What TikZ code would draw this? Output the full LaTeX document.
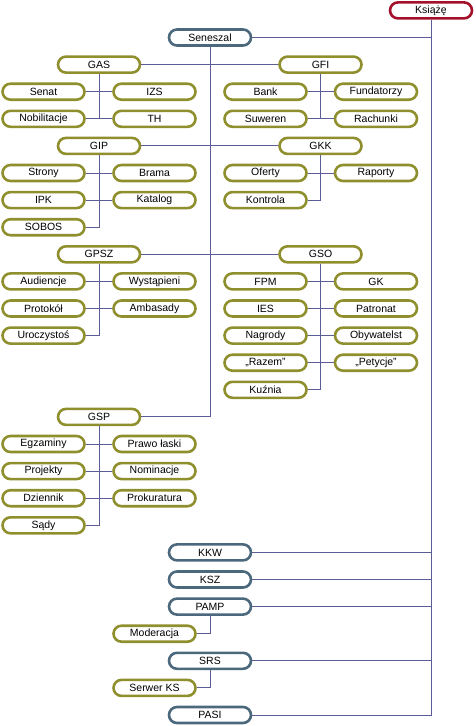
\documentclass[tikz,border=0pt]{standalone}
\usepackage{fontspec}
\setmainfont{Liberation Sans}
\definecolor{olv}{RGB}{143,143,46}
\definecolor{blg}{RGB}{76,104,125}
\definecolor{rdd}{RGB}{163,16,42}
\definecolor{lnc}{RGB}{92,92,150}
\tikzset{
  box/.style={rounded corners=8pt, minimum width=82pt, minimum height=16pt, line width=2.6pt, fill=white, inner sep=0pt, font=\fontsize{10.5}{12}\selectfont},
  ol/.style={box, draw=olv},
  bl/.style={box, draw=blg},
  rd/.style={box, draw=rdd},
  ln/.style={draw=lnc, line width=0.9pt}
}
\begin{document}
\begin{tikzpicture}[x=1pt,y=-1pt]
\useasboundingbox (0,0) rectangle (475,726);
% columns
\def\cA{43.5}\def\cB{154.5}\def\cG{99}\def\cS{210}\def\cH{320.5}\def\cC{265.5}\def\cD{376}\def\cK{431}
% top
\node[rd] (ks) at (\cK,10.4) {Książę};
\node[bl] (sen) at (\cS,37.5) {Seneszal};
% GAS
\node[ol] (gas) at (\cG,64.6) {GAS};
\node[ol] (senat) at (\cA,91.7) {Senat};
\node[ol] (izs) at (\cB,91.7) {IZS};
\node[ol] (nob) at (\cA,118.8) {Nobilitacje};
\node[ol] (th) at (\cB,118.8) {TH};
% GFI
\node[ol] (gfi) at (\cH,64.6) {GFI};
\node[ol] (bank) at (\cC,91.7) {Bank};
\node[ol] (fund) at (\cD,91.7) {Fundatorzy};
\node[ol] (suw) at (\cC,118.8) {Suweren};
\node[ol] (rach) at (\cD,118.8) {Rachunki};
% GIP
\node[ol] (gip) at (\cG,145.9) {GIP};
\node[ol] (stro) at (\cA,173.0) {Strony};
\node[ol] (bram) at (\cB,173.0) {Brama};
\node[ol] (ipk) at (\cA,200.1) {IPK};
\node[ol] (kat) at (\cB,200.1) {Katalog};
\node[ol] (sob) at (\cA,227.2) {SOBOS};
% GKK
\node[ol] (gkk) at (\cH,145.9) {GKK};
\node[ol] (ofe) at (\cC,173.0) {Oferty};
\node[ol] (rap) at (\cD,173.0) {Raporty};
\node[ol] (kon) at (\cC,200.1) {Kontrola};
% GPSZ
\node[ol] (gpsz) at (\cG,254.3) {GPSZ};
\node[ol] (aud) at (\cA,281.4) {Audiencje};
\node[ol] (wys) at (\cB,281.4) {Wystąpieni};
\node[ol] (pro) at (\cA,308.5) {Protokół};
\node[ol] (amb) at (\cB,308.5) {Ambasady};
\node[ol] (uro) at (\cA,335.6) {Uroczystoś};
% GSO
\node[ol] (gso) at (\cH,254.3) {GSO};
\node[ol] (fpm) at (\cC,281.4) {FPM};
\node[ol] (gk) at (\cD,281.4) {GK};
\node[ol] (ies) at (\cC,308.5) {IES};
\node[ol] (pat) at (\cD,308.5) {Patronat};
\node[ol] (nag) at (\cC,335.6) {Nagrody};
\node[ol] (oby) at (\cD,335.6) {Obywatelst};
\node[ol] (raz) at (\cC,362.7) {„Razem"};
\node[ol] (pet) at (\cD,362.7) {„Petycje"};
\node[ol] (kuz) at (\cC,389.8) {Kuźnia};
% GSP
\node[ol] (gsp) at (\cG,416.9) {GSP};
\node[ol] (egz) at (\cA,444.0) {Egzaminy};
\node[ol] (pla) at (\cB,444.0) {Prawo łaski};
\node[ol] (prj) at (\cA,471.1) {Projekty};
\node[ol] (nom) at (\cB,471.1) {Nominacje};
\node[ol] (dzi) at (\cA,498.2) {Dziennik};
\node[ol] (prk) at (\cB,498.2) {Prokuratura};
\node[ol] (sad) at (\cA,525.3) {Sądy};
% bottom
\node[bl] (kkw) at (\cS,552.4) {KKW};
\node[bl] (ksz) at (\cS,579.5) {KSZ};
\node[bl] (pamp) at (\cS,606.6) {PAMP};
\node[ol] (mod) at (\cB,633.7) {Moderacja};
\node[bl] (srs) at (\cS,660.8) {SRS};
\node[ol] (ser) at (\cB,687.9) {Serwer KS};
\node[bl] (pasi) at (\cS,715.0) {PASI};
% connectors
\path[ln] (ks.south) |- (pasi.east);
\foreach \n in {sen,kkw,ksz,pamp,srs}{\path[ln] (\n.east) -- (\n.east -| ks.south);}
\path[ln] (sen.south) |- (gsp.east);
\path[ln] (gas.east) -- (gfi.west);
\path[ln] (gip.east) -- (gkk.west);
\path[ln] (gpsz.east) -- (gso.west);
% GAS
\path[ln] (gas.south) -- (gas.south |- nob.east);
\path[ln] (senat.east) -- (izs.west);
\path[ln] (nob.east) -- (th.west);
% GFI
\path[ln] (gfi.south) -- (gfi.south |- suw.east);
\path[ln] (bank.east) -- (fund.west);
\path[ln] (suw.east) -- (rach.west);
% GIP
\path[ln] (gip.south) |- (sob.east);
\path[ln] (stro.east) -- (bram.west);
\path[ln] (ipk.east) -- (kat.west);
% GKK
\path[ln] (gkk.south) |- (kon.east);
\path[ln] (ofe.east) -- (rap.west);
% GPSZ
\path[ln] (gpsz.south) |- (uro.east);
\path[ln] (aud.east) -- (wys.west);
\path[ln] (pro.east) -- (amb.west);
% GSO
\path[ln] (gso.south) |- (kuz.east);
\path[ln] (fpm.east) -- (gk.west);
\path[ln] (ies.east) -- (pat.west);
\path[ln] (nag.east) -- (oby.west);
\path[ln] (raz.east) -- (pet.west);
% GSP
\path[ln] (gsp.south) |- (sad.east);
\path[ln] (egz.east) -- (pla.west);
\path[ln] (prj.east) -- (nom.west);
\path[ln] (dzi.east) -- (prk.west);
% PAMP, SRS
\path[ln] (pamp.south) |- (mod.east);
\path[ln] (srs.south) |- (ser.east);
\end{tikzpicture}
\end{document}
